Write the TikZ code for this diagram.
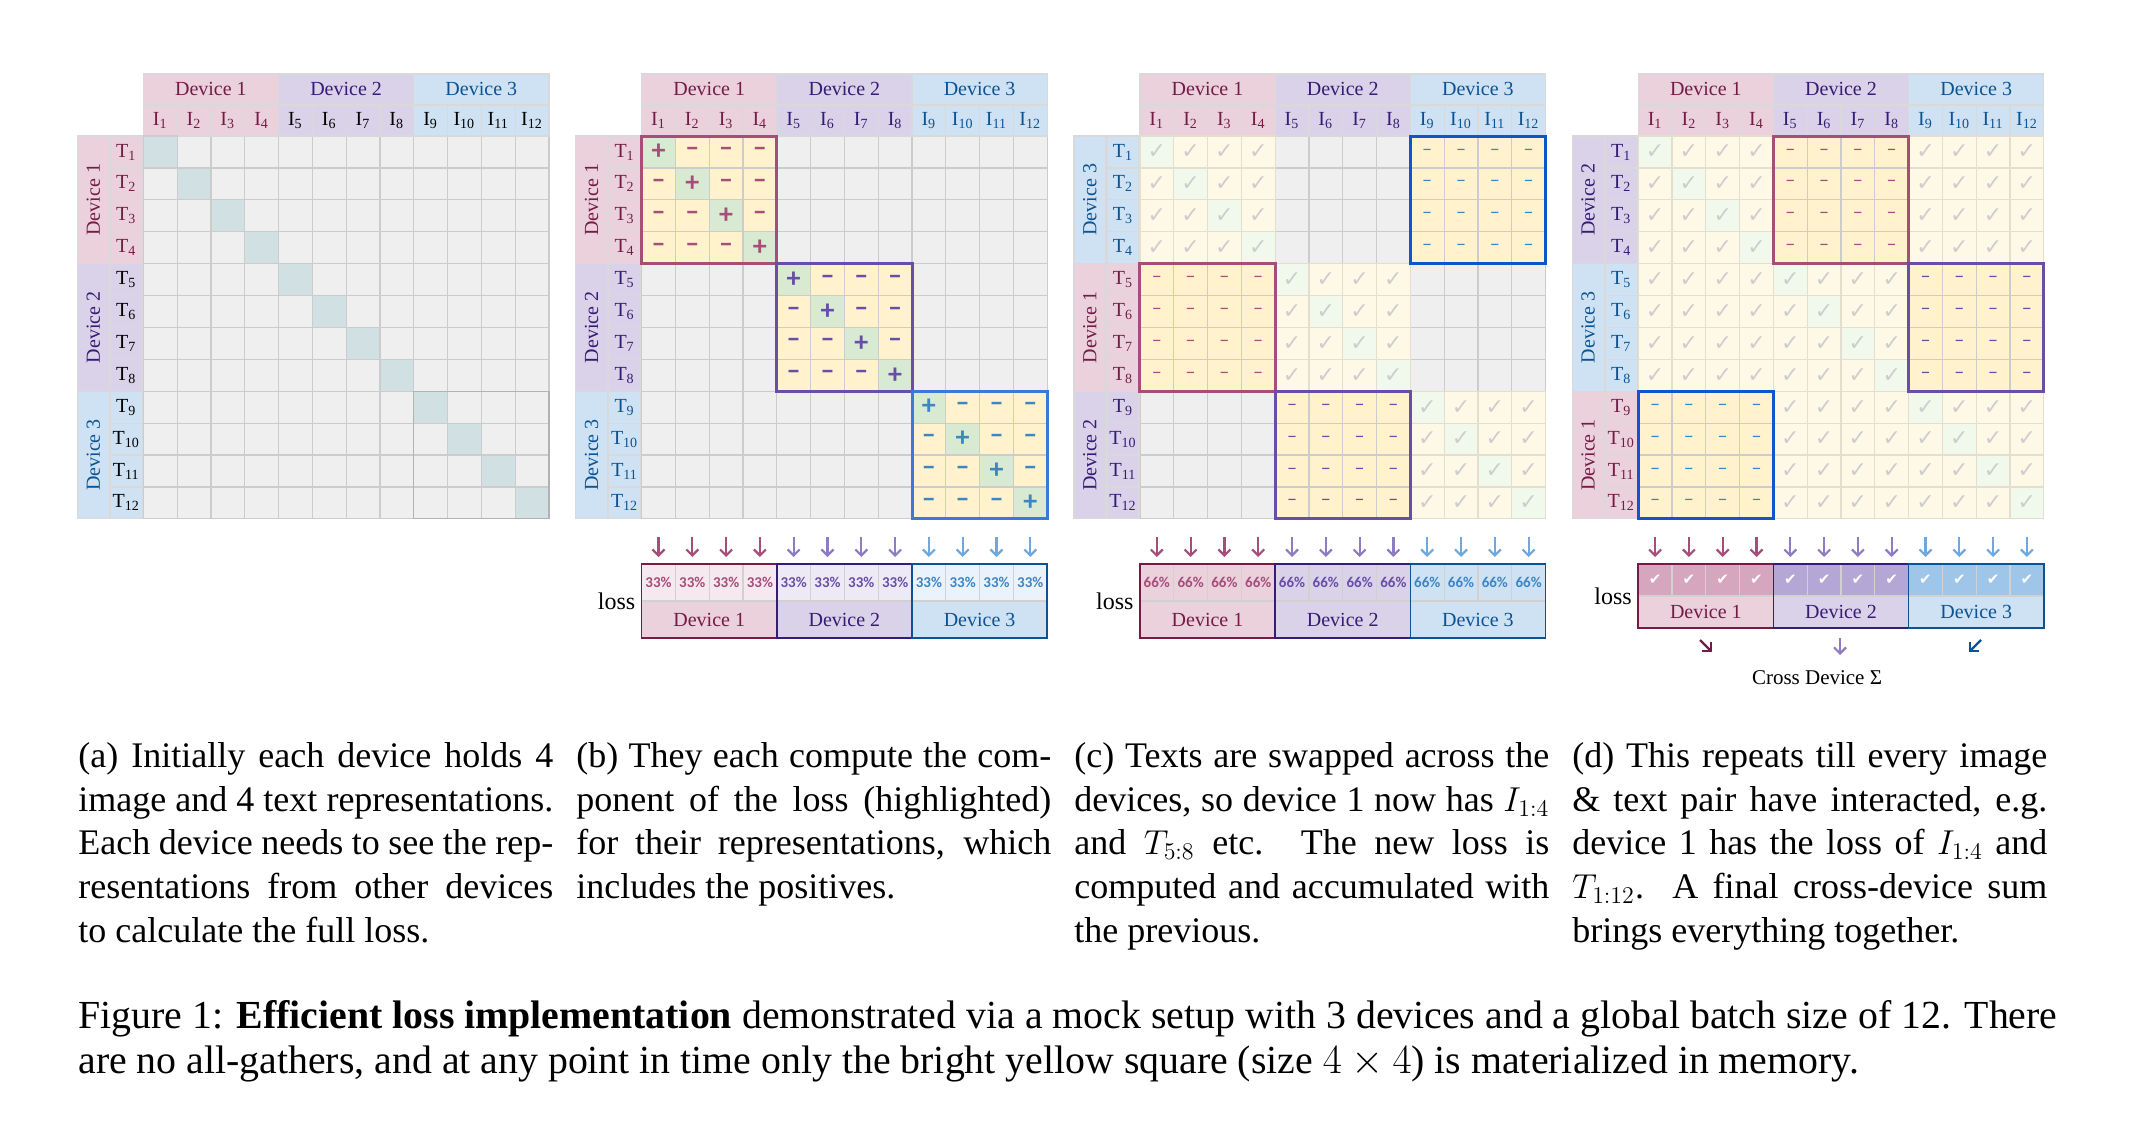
\documentclass[tikz,border=0pt]{standalone}
\usepackage{xcolor}
\usepackage{fontspec}
\setmainfont{Liberation Serif}
\newfontfamily\pctfont{Carlito}
\newfontfamily\symfont{DejaVu Sans}
\usetikzlibrary{arrows.meta,positioning,calc}

% device colours: background, text, box line, signs, arrows
\definecolor{dev1bg}{HTML}{EAD1DC}
\definecolor{dev2bg}{HTML}{D9D2E9}
\definecolor{dev3bg}{HTML}{CFE2F3}
\definecolor{dev1tx}{HTML}{741B47}
\definecolor{dev2tx}{HTML}{351C75}
\definecolor{dev3tx}{HTML}{0B5394}
\definecolor{dev1ln}{HTML}{A64D79}
\definecolor{dev2ln}{HTML}{674EA7}
\definecolor{dev3ln}{HTML}{3C78D8}
\definecolor{dev1box}{HTML}{A64D79}
\definecolor{dev2box}{HTML}{674EA7}
\definecolor{dev3box}{HTML}{1155CC}
\definecolor{dev1sg}{HTML}{A64D79}
\definecolor{dev2sg}{HTML}{674EA7}
\definecolor{dev3sg}{HTML}{3D85C6}
\definecolor{dev1ar}{HTML}{A64D79}
\definecolor{dev2ar}{HTML}{8E7CC3}
\definecolor{dev3ar}{HTML}{6FA8DC}
\definecolor{dev1pa}{HTML}{F6E8EF}
\definecolor{dev2pa}{HTML}{EEEAF5}
\definecolor{dev3pa}{HTML}{EAF3FB}
\definecolor{dev1dk}{HTML}{D5A6BD}
\definecolor{dev2dk}{HTML}{B4A7D6}
\definecolor{dev3dk}{HTML}{9FC5E8}
% cell colours
\definecolor{cellgray}{HTML}{EFEFEF}
\definecolor{gridln}{HTML}{CCCCCC}
\definecolor{diagteal}{HTML}{D0E0E3}
\definecolor{negyel}{HTML}{FFF2CC}
\definecolor{posgrn}{HTML}{D9EAD3}
\definecolor{doneyel}{HTML}{FEF8E6}
\definecolor{donegrn}{HTML}{F1F8EC}
\definecolor{doneln}{HTML}{E4DECF}
\definecolor{donetick}{HTML}{CDCDCD}

\begin{document}
\begin{tikzpicture}[
    x=0.5pt, y=-0.5pt,
    cell/.style={draw=gridln, line width=0.6pt},
    hdr/.style={draw=black!15, line width=0.6pt},
    lbl/.style={font=\fontsize{10}{12}\selectfont, inner sep=0pt},
    sgn/.style={font=\fontsize{14}{14}\selectfont\pctfont\bfseries, inner sep=0pt},
    dsh/.style={font=\fontsize{10}{10}\selectfont\pctfont, inner sep=0pt},
    tick/.style={font=\fontsize{11}{11}\selectfont\symfont, text=donetick, inner sep=0pt},
    blk/.style={line width=1.5pt},
    pct/.style={font=\fontsize{7.5}{8}\selectfont\pctfont\bfseries, inner sep=0pt},
    darr/.style={line width=1.1pt, -{Straight Barb[length=3pt,width=6pt]}},
    subcap/.style={anchor=north west, inner sep=0pt, text width=237.5pt, align=justify,
      font=\fontsize{18}{21.85}\selectfont},
  ]
  % canvas in px of the 2140 x 1132 reference
  \pgfmathsetmacro{\cw}{33.8}
  \pgfmathsetmacro{\ch}{31.9}
  \pgfmathsetmacro{\gt}{136}
  \useasboundingbox (0,0) rectangle (2140,1132);

  % the four similarity grids with their headers
  \foreach \p/\ra/\rb/\rc in {0/1/2/3,1/1/2/3,2/3/1/2,3/2/3/1} {
    \pgfmathsetmacro{\gl}{143.3+\p*498.3}
    \foreach \r in {1,...,12}
      \foreach \c in {1,...,12}
        \draw[cell, fill=cellgray] ({\gl+(\c-1)*\cw},{\gt+(\r-1)*\ch}) rectangle ++(\cw,\ch);
    % image columns
    \foreach \d in {1,2,3}
      \draw[hdr, fill=dev\d bg] ({\gl+(\d-1)*4*\cw},74) rectangle ++({4*\cw},30.5)
        node[pos=.5, lbl, text=dev\d tx] (hd\p-\d) {Device \d};
    \foreach \c in {1,...,12} {
      \pgfmathtruncatemacro{\d}{(\c-1)/4+1}
      \ifnum\p=0 \ifnum\d>1 \def\lc{black}\else\def\lc{dev\d tx}\fi\else\def\lc{dev\d tx}\fi
      \draw[hdr, fill=dev\d bg] ({\gl+(\c-1)*\cw},105) rectangle ++(\cw,31)
        node[pos=.5, lbl, text=\lc] (im\p-\c) {I\textsubscript{\c}};
    }
    % text rows
    \foreach \g/\dv in {1/\ra,2/\rb,3/\rc} {
      \draw[hdr, fill=dev\dv bg] ({\gl-66},{\gt+(\g-1)*4*\ch}) rectangle ++(32,{4*\ch})
        node[pos=.5, lbl, rotate=90, text=dev\dv tx] (rd\p-\g) {Device \dv};
      \foreach \i in {1,...,4} {
        \pgfmathtruncatemacro{\r}{(\g-1)*4+\i}
        \ifnum\p=0 \ifnum\dv>1 \def\lc{black}\else\def\lc{dev\dv tx}\fi\else\def\lc{dev\dv tx}\fi
        \draw[hdr, fill=dev\dv bg] ({\gl-33},{\gt+(\r-1)*\ch}) rectangle ++(32,\ch)
          node[pos=.5, lbl, text=\lc] (tx\p-\r) {T\textsubscript{\r}};
      }
    }
  }

  % (a) positives on the diagonal
  \foreach \r in {1,...,12}
    \draw[cell, fill=diagteal] ({143.3+(\r-1)*\cw},{\gt+(\r-1)*\ch}) rectangle ++(\cw,\ch);
  \draw[gray!60, line width=0.6pt] ({143.3+8*\cw},{\gt+8*\ch}) rectangle ++({4*\cw},{4*\ch});

  % (b) each device computes its own block
  \foreach \g in {1,2,3} {
    \foreach \i in {1,...,4}
      \foreach \j in {1,...,4} {
        \pgfmathtruncatemacro{\r}{(\g-1)*4+\i}
        \pgfmathtruncatemacro{\c}{(\g-1)*4+\j}
        \ifnum\i=\j
          \draw[cell, fill=posgrn] ({641.6+(\c-1)*\cw},{\gt+(\r-1)*\ch}) rectangle ++(\cw,\ch)
            node[pos=.5, sgn, text=dev\g sg] (sb-\r-\c) {+};
        \else
          \draw[cell, fill=negyel] ({641.6+(\c-1)*\cw},{\gt+(\r-1)*\ch}) rectangle ++(\cw,\ch)
            node[pos=.5, sgn, text=dev\g sg] (sb-\r-\c) {–};
        \fi
      }
    \draw[blk, draw=dev\g ln] ({641.6+(\g-1)*4*\cw},{\gt+(\g-1)*4*\ch}) rectangle ++({4*\cw},{4*\ch});
  }

  % (c) and (d): finished blocks get ticks, live blocks dashes
  \foreach \p/\rg/\cg/\k/\live in {2/1/1/0/0,2/2/2/0/0,2/3/3/0/0,2/1/3/3/1,2/2/1/1/1,2/3/2/2/1,
      3/1/1/0/0,3/1/3/0/0,3/2/1/0/0,3/2/2/0/0,3/3/2/0/0,3/3/3/0/0,3/1/2/1/1,3/2/3/2/1,3/3/1/3/1} {
    \pgfmathsetmacro{\gl}{143.3+\p*498.3}
    \foreach \i in {1,...,4}
      \foreach \j in {1,...,4} {
        \pgfmathtruncatemacro{\r}{(\rg-1)*4+\i}
        \pgfmathtruncatemacro{\c}{(\cg-1)*4+\j}
        \ifnum\live=1
          \draw[cell, fill=negyel] ({\gl+(\c-1)*\cw},{\gt+(\r-1)*\ch}) rectangle ++(\cw,\ch)
            node[pos=.5, dsh, text=dev\k sg] (cl\p-\r-\c) {–};
        \else
          \ifnum\r=\c \def\cbg{donegrn}\else\def\cbg{doneyel}\fi
          \draw[cell, draw=doneln, fill=\cbg] ({\gl+(\c-1)*\cw},{\gt+(\r-1)*\ch}) rectangle ++(\cw,\ch)
            node[pos=.5, tick] (tk\p-\r-\c) {✓};
        \fi
      }
  }
  \foreach \p/\rg/\cg/\k in {2/1/3/3,2/2/1/1,2/3/2/2,3/1/2/1,3/2/3/2,3/3/1/3} {
    \pgfmathsetmacro{\gl}{143.3+\p*498.3}
    \draw[blk, draw=dev\k box] ({\gl+(\cg-1)*4*\cw},{\gt+(\rg-1)*4*\ch}) rectangle ++({4*\cw},{4*\ch});
  }

  % loss bars under (b), (c), (d)
  \foreach \p/\rh/\tone/\pv in {1/37/pa/33\%,2/37/bg/66\%,3/32/dk/✔} {
    \pgfmathsetmacro{\gl}{143.3+\p*498.3}
    \foreach \c in {1,...,12} {
      \pgfmathtruncatemacro{\d}{(\c-1)/4+1}
      \ifnum\p=3 \def\lc{white}\else\def\lc{dev\d sg}\fi
      \coordinate (at\p-\c) at ({\gl+(\c-0.5)*\cw},537);
      \coordinate (ab\p-\c) at ({\gl+(\c-0.5)*\cw},557);
      \draw[darr, draw=dev\d ar] (at\p-\c) -- (ab\p-\c);
      \draw[draw=black!18, line width=0.6pt, fill=dev\d\tone] ({\gl+(\c-1)*\cw},564) rectangle ++(\cw,\rh)
        node[pos=.5, pct, text=\lc] (pc\p-\c) {\ifnum\p=3 \symfont\fi\pv};
    }
    \foreach \d in {1,2,3} {
      \draw[draw=black!18, fill=dev\d bg] ({\gl+(\d-1)*4*\cw},{564+\rh}) rectangle ++({4*\cw},\rh)
        node[pos=.5, lbl, text=dev\d tx] (ld\p-\d) {Device \d};
      \draw[line width=0.75pt, draw=dev\d tx] ({\gl+(\d-1)*4*\cw},564) rectangle ++({4*\cw},{2*\rh});
    }
    \node[anchor=east, inner sep=0pt, font=\fontsize{12}{14}\selectfont] (loss\p) at ({\gl-6},{564+\rh}) {loss};
  }

  % final reduction in (d)
  \coordinate (sa1) at (1700,640);
  \coordinate (sb1) at (1712,652);
  \coordinate (sa2) at (1840,638);
  \coordinate (sb2) at (1840,655);
  \coordinate (sa3) at (1981,640);
  \coordinate (sb3) at (1969,652);
  \draw[darr, draw=dev1tx] (sa1) -- (sb1);
  \draw[darr, draw=dev2ar] (sa2) -- (sb2);
  \draw[darr, draw=dev3tx] (sa3) -- (sb3);
  \node[inner sep=0pt, font=\fontsize{10.5}{12}\selectfont] (xsum) at (1817,678) {Cross Device Σ};

  % sub-captions
  \node[subcap] (capa) at (78,742) {(a) Initially each device holds 4\linebreak image and 4 text representations.\linebreak Each device needs to see the rep-\linebreak resentations from other devices\linebreak to calculate the full loss.};
  \node[subcap] (capb) at (576,742) {(b) They each compute the com-\linebreak ponent of the loss (highlighted)\linebreak for their representations, which\linebreak includes the positives.};
  \node[subcap] (capc) at (1074,742) {(c) Texts are swapped across the\linebreak devices, so device 1 now has $I_{1:4}$\linebreak and $T_{5:8}$ etc. The new loss is\linebreak computed and accumulated with\linebreak the previous.};
  \node[subcap] (capd) at (1572,742) {(d) This repeats till every image\linebreak \& text pair have interacted, e.g.\linebreak device 1 has the loss of $I_{1:4}$ and\linebreak $T_{1:12}$. A final cross-device sum\linebreak brings everything together.};

  % figure caption
  \node[anchor=north west, inner sep=0pt, text width=989.5pt, align=justify,
    font=\fontsize{19.9}{22.6}\selectfont] (figcap) at (78,1000)
    {Figure 1: \textbf{Efficient loss implementation} demonstrated via a mock setup with 3 devices and a global batch size of 12. There\linebreak are no all-gathers, and at any point in time only the bright yellow square (size $4\times4$) is materialized in memory.};
\end{tikzpicture}
\end{document}
